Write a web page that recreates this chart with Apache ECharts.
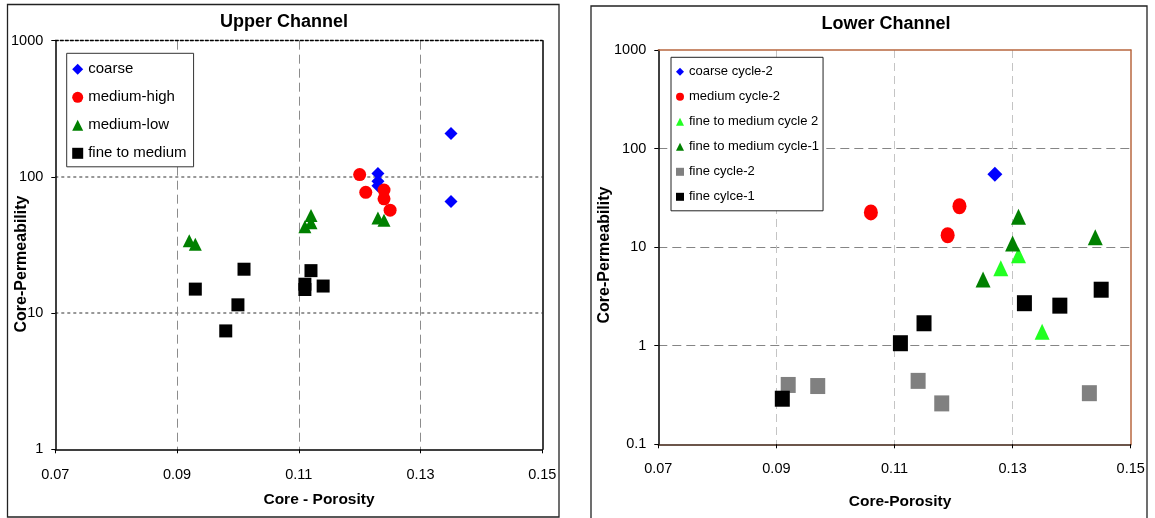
<!DOCTYPE html>
<html>
<head>
<meta charset="utf-8">
<script src="https://cdn.jsdelivr.net/npm/echarts@6/dist/echarts.min.js"></script>
<style>
  html, body { margin: 0; padding: 0; background: #fff; }
  #chart { width: 1155px; height: 518px; }
</style>
</head>
<body>
<div id="chart"></div>
<script>
// ---- Upper Channel: [porosity, permeability] ----
const upperCoarse = [[0.135, 208], [0.135, 66], [0.123, 106], [0.123, 93], [0.123, 86]];
const upperMediumHigh = [[0.120, 104], [0.121, 77], [0.124, 80], [0.124, 69], [0.125, 57]];
const upperMediumLow = [[0.092, 34], [0.093, 32], [0.111, 43], [0.112, 46], [0.112, 52], [0.123, 50], [0.124, 48]];
const upperFineToMedium = [[0.093, 15], [0.101, 21], [0.100, 11.5], [0.098, 7.4], [0.112, 20.5], [0.111, 16.3], [0.111, 14.9], [0.114, 15.8]];

// ---- Lower Channel: [porosity, permeability] ----
const lowerCoarse2 = [[0.127, 55]];
const lowerMedium2 = [[0.106, 22.5], [0.121, 26], [0.119, 13.2]];
const lowerFineMed2 = [[0.128, 6.1], [0.131, 8.3], [0.135, 1.39]];
const lowerFineMed1 = [[0.131, 20.3], [0.130, 10.9], [0.125, 4.7], [0.144, 12.6]];
const lowerFine2 = [[0.092, 0.40], [0.097, 0.39], [0.114, 0.44], [0.118, 0.26], [0.143, 0.33]];
const lowerFine1 = [[0.091, 0.29], [0.111, 1.06], [0.115, 1.69], [0.132, 2.7], [0.138, 2.55], [0.145, 3.7]];

// ---- axes ----
const porosityRange = [0.07, 0.15];
const porosityStep = 0.02;
const upperPermRange = [1, 1000];
const lowerPermRange = [0.1, 1000];

const upperNames = ['coarse', 'medium-high', 'medium-low', 'fine to medium'];
const lowerNames = ['coarse cycle-2', 'medium cycle-2', 'fine to medium cycle 2', 'fine to medium cycle-1', 'fine cycle-2', 'fine cylce-1'];

const FONT = '"Liberation Sans", Arial, sans-serif';
const SIENNA = '#b8673f';

const chart = echarts.init(document.getElementById('chart'), null, { renderer: 'canvas' });

function bottomAxis(gridIndex, labelMargin, gridColor, gridType, lineColor) {
  return {
    type: 'value', gridIndex, position: 'bottom',
    min: porosityRange[0], max: porosityRange[1], interval: porosityStep,
    axisLine: { onZero: false, lineStyle: { color: lineColor, width: 1.5 } },
    axisTick: { show: true, length: 4, lineStyle: { color: '#000' } },
    axisLabel: { margin: labelMargin, color: '#000', fontSize: 14.5, fontFamily: FONT,
      formatter: v => v.toFixed(2) },
    splitLine: { show: true, showMinLine: false, showMaxLine: false,
      lineStyle: { color: gridColor, type: gridType, width: 1 } }
  };
}
function leftAxis(gridIndex, range, gridColor, gridType, gridWidth) {
  return {
    type: 'log', logBase: 10, gridIndex, position: 'left',
    min: range[0], max: range[1],
    axisLine: { onZero: false, lineStyle: { color: '#000', width: 1.5 } },
    axisTick: { show: true, length: 4, lineStyle: { color: '#000' } },
    axisLabel: { margin: 12, color: '#000', fontSize: 14.5, fontFamily: FONT,
      formatter: v => String(Number(Number(v).toPrecision(3))) },
    splitLine: { show: true, showMinLine: false, showMaxLine: false,
      lineStyle: { color: gridColor, type: gridType, width: gridWidth } }
  };
}
function frameAxisX(gridIndex, color, type, width) {
  return {
    type: 'value', gridIndex, position: 'top', min: porosityRange[0], max: porosityRange[1],
    axisLine: { onZero: false, lineStyle: { color, type, width } },
    axisTick: { show: false }, axisLabel: { show: false }, splitLine: { show: false }
  };
}
function frameAxisY(gridIndex, range, color, width) {
  return {
    type: 'log', gridIndex, position: 'right', min: range[0], max: range[1],
    axisLine: { onZero: false, lineStyle: { color, width } },
    axisTick: { show: false }, axisLabel: { show: false }, splitLine: { show: false }
  };
}

function scatter(name, data, axis, symbol, size, color) {
  return {
    type: 'scatter', name, data, xAxisIndex: axis, yAxisIndex: axis,
    symbol, symbolSize: size, itemStyle: { color, opacity: 1 },
    emphasis: { disabled: true }
  };
}

const option = {
  animation: false,
  backgroundColor: '#fff',
  textStyle: { fontFamily: FONT },
  grid: [
    { left: 55.3, top: 40.7, width: 487, height: 408.6, outerBoundsMode: 'none', containLabel: false },
    { left: 658.3, top: 50, width: 472.4, height: 394.3, outerBoundsMode: 'none', containLabel: false }
  ],
  xAxis: [
    bottomAxis(0, 18, '#8c8c8c', [9, 5], '#000'),
    bottomAxis(1, 17, '#c4c4c4', [8, 5], '#3d1f10'),
    frameAxisX(0, '#000', [3, 2], 1.3),
    frameAxisX(1, SIENNA, 'solid', 1.5)
  ],
  yAxis: [
    leftAxis(0, upperPermRange, '#777', [3, 3], 1.5),
    leftAxis(1, lowerPermRange, '#858585', [9, 5], 1),
    frameAxisY(0, upperPermRange, '#000', 1.5),
    frameAxisY(1, lowerPermRange, SIENNA, 1.5)
  ],
  legend: [
    {
      data: upperNames, orient: 'vertical', left: 66.7, top: 53.3,
      padding: [8.5, 7, 6, 5.5], itemWidth: 11, itemHeight: 11, itemGap: 13,
      borderColor: '#333', borderWidth: 1, backgroundColor: '#fff',
      textStyle: { fontSize: 15, lineHeight: 15, color: '#000', fontFamily: FONT },
      selectedMode: false
    },
    {
      data: lowerNames, orient: 'vertical', left: 671, top: 57.3,
      padding: [7.5, 4, 7, 5], itemWidth: 8, itemHeight: 8, itemGap: 11,
      borderColor: '#222', borderWidth: 1, backgroundColor: '#fff',
      textStyle: { fontSize: 13, lineHeight: 14, color: '#000', fontFamily: FONT },
      selectedMode: false
    }
  ],
  series: [
    scatter(upperNames[0], upperCoarse, 0, 'diamond', 13, '#0000ff'),
    scatter(upperNames[1], upperMediumHigh, 0, 'circle', 13, '#ff0000'),
    scatter(upperNames[2], upperMediumLow, 0, 'triangle', 13, '#008000'),
    scatter(upperNames[3], upperFineToMedium, 0, 'rect', 13, '#000000'),
    scatter(lowerNames[0], lowerCoarse2, 1, 'diamond', [15, 15], '#0000ff'),
    scatter(lowerNames[1], lowerMedium2, 1, 'circle', [14, 16], '#ff0000'),
    scatter(lowerNames[2], lowerFineMed2, 1, 'triangle', [15, 16], '#22ff22'),
    scatter(lowerNames[3], lowerFineMed1, 1, 'triangle', [15, 16], '#008000'),
    scatter(lowerNames[4], lowerFine2, 1, 'rect', [15, 16], '#808080'),
    scatter(lowerNames[5], lowerFine1, 1, 'rect', [15, 16], '#000000')
  ],
  graphic: [
    // chart frames
    { type: 'rect', silent: true, z: -10, shape: { x: 7.5, y: 4.5, width: 551.5, height: 512.5 },
      style: { fill: null, stroke: '#222', lineWidth: 1.3 } },
    { type: 'rect', silent: true, z: -10, shape: { x: 591, y: 6, width: 556, height: 520 },
      style: { fill: null, stroke: '#222', lineWidth: 1.3 } },
    // titles
    { type: 'text', silent: true, x: 284, y: 22,
      style: { text: 'Upper Channel', fill: '#000', font: 'bold 18px ' + FONT, align: 'center', verticalAlign: 'middle' } },
    { type: 'text', silent: true, x: 886, y: 24,
      style: { text: 'Lower Channel', fill: '#000', font: 'bold 18px ' + FONT, align: 'center', verticalAlign: 'middle' } },
    // axis names
    { type: 'text', silent: true, x: 319, y: 500,
      style: { text: 'Core - Porosity', fill: '#000', font: 'bold 15.5px ' + FONT, align: 'center', verticalAlign: 'middle' } },
    { type: 'text', silent: true, x: 900, y: 502,
      style: { text: 'Core-Porosity', fill: '#000', font: 'bold 15.5px ' + FONT, align: 'center', verticalAlign: 'middle' } },
    { type: 'text', silent: true, x: 22, y: 264, rotation: Math.PI / 2,
      style: { text: 'Core-Permeability', fill: '#000', font: 'bold 16px ' + FONT, align: 'center', verticalAlign: 'middle' } },
    { type: 'text', silent: true, x: 605, y: 255, rotation: Math.PI / 2,
      style: { text: 'Core-Permeability', fill: '#000', font: 'bold 16px ' + FONT, align: 'center', verticalAlign: 'middle' } }
  ]
};

chart.setOption(option);
</script>
</body>
</html>
